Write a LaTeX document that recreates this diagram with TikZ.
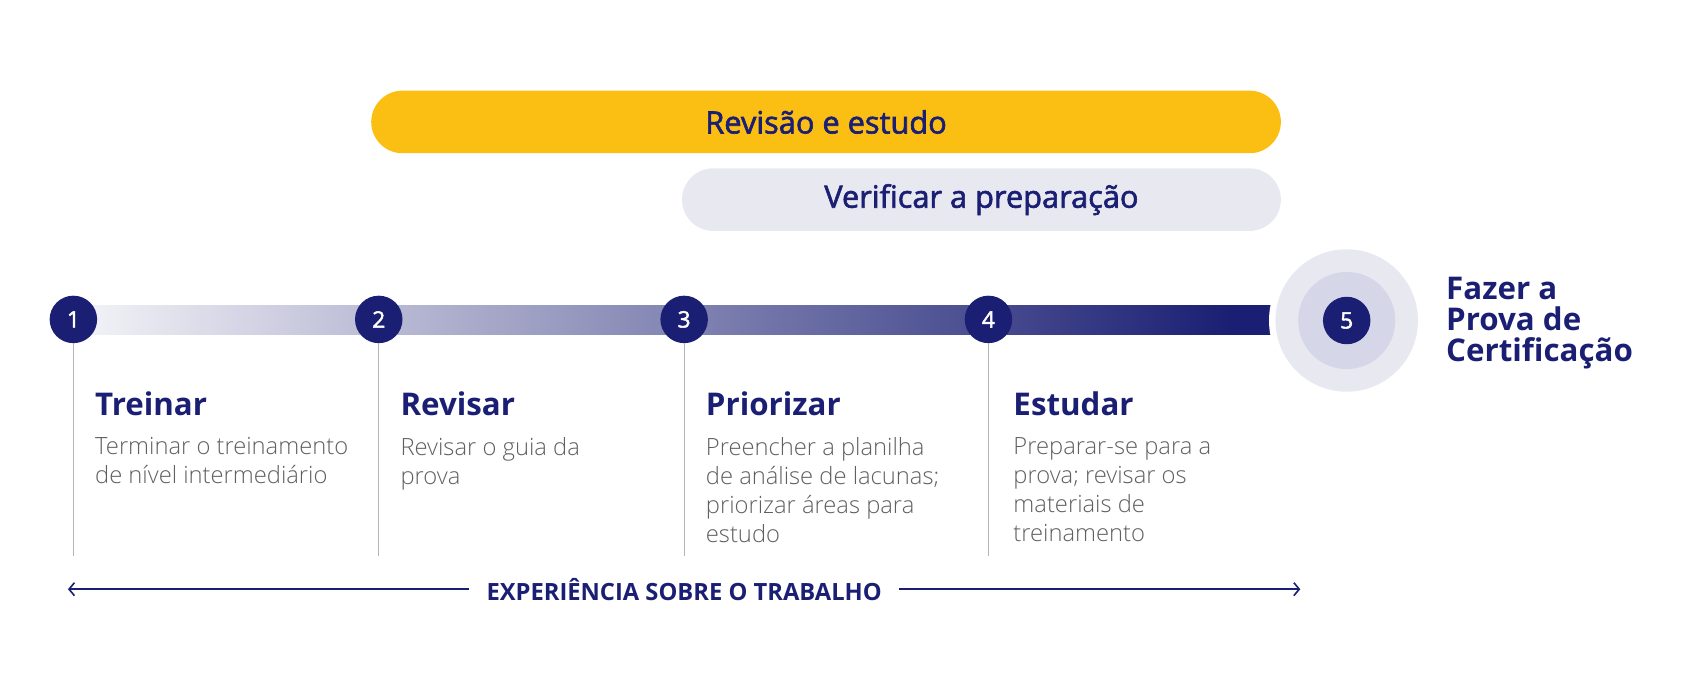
\documentclass[tikz,border=0pt]{standalone}
\usepackage{fontspec}
\setmainfont{Open Sans}
\newfontfamily\lightfont{Open Sans Light}
\newfontfamily\semifont{Open Sans}[FakeBold=2]
\usetikzlibrary{positioning,arrows.meta}
\definecolor{navy}{HTML}{1B1F73}
\definecolor{gold}{HTML}{FBBF14}
\definecolor{pale}{HTML}{E8E8F1}
\definecolor{ringmid}{HTML}{D5D6E7}
\definecolor{barlight}{HTML}{F4F4F8}
\definecolor{txtgray}{HTML}{5F5F5F}
\definecolor{rulegray}{HTML}{B4B4B4}
\tikzset{
	stepnum/.style={circle, fill=navy, minimum size=44pt, inner sep=0pt, text=white, font=\semifont\fontsize{21}{21}\selectfont},
	pill/.style={rounded corners=29pt, minimum height=58pt, inner sep=0pt, text=navy, font=\semifont\fontsize{28.5}{28.5}\selectfont},
	heading/.style={anchor=base west, inner sep=0pt, text=navy, font=\bfseries\fontsize{29}{29}\selectfont},
	body/.style={anchor=north west, inner sep=0pt, align=left, text=txtgray, font=\lightfont\fontsize{22}{27}\selectfont},
}

\begin{document}
\begin{tikzpicture}[x=1pt,y=-1pt]
				%%%%% START %%%%%
				\def\ybar{296}
				\def\yhead{385}
				\def\ybody{405}
				\def\yend{515}
				\def\xfive{1248}
				
				\useasboundingbox (0,0) rectangle (1568,643);
				
				% phases on top
				\node[pill, fill=gold, minimum width=843pt] (review) at (765.5,113) {Revisão e estudo};
				\node[pill, fill=pale, minimum width=555pt] (check) at (909.5,185) {Verificar a preparação};
				
				% timeline bar
				\shade[left color=barlight, right color=navy] (68,\ybar-13) rectangle (1140,\ybar+14);
				\fill[navy] (1140,\ybar-13) rectangle (1185,\ybar+14);
				\fill[white] (\xfive,\ybar+1) circle (72);
				\fill[pale] (\xfive,\ybar+1) circle (66);
				\fill[ringmid] (\xfive,\ybar+1) circle (45);
				
				% steps
				\foreach \i/\x in {1/68,2/351,3/634,4/916}{
					\coordinate (e\i) at (\x,\yend);
					\node[stepnum] (s\i) at (\x,\ybar) {\i};
					\draw[rulegray, line width=1pt] (s\i) -- (e\i);
				}
				\node[stepnum] (s5) at (\xfive,\ybar+1) {5};
				
				\node[heading] (h1) at (88,\yhead) {Treinar};
				\node[heading] (h2) at (371,\yhead) {Revisar};
				\node[heading] (h3) at (654,\yhead) {Priorizar};
				\node[heading] (h4) at (939,\yhead) {Estudar};
				
				\node[body] (b1) at (88,\ybody) {Terminar o treinamento\\de nível intermediário};
				\node[body] (b2) at (371,\ybody) {Revisar o guia da\\prova};
				\node[body] (b3) at (654,\ybody) {Preencher a planilha\\de análise de lacunas;\\priorizar áreas para\\estudo};
				\node[body] (b4) at (939,\ybody) {Preparar-se para a\\prova; revisar os\\materiais de\\treinamento};
				
				\node[anchor=north west, inner sep=0pt, align=left, text=navy, font=\bfseries\fontsize{29}{28.5}\selectfont] (goal) at (1340,257) {Fazer a\\Prova de\\Certificação};
				
				% work experience
				\coordinate (wl) at (63,546);
				\coordinate (wr) at (1205,546);
				\node[inner xsep=16pt, inner ysep=0pt, text=navy, font=\bfseries\fontsize{22}{22}\selectfont] (work) at (634,546) {EXPERIÊNCIA SOBRE O TRABALHO};
				\draw[navy, line width=1.5pt, -{Straight Barb[length=5pt,width=12pt]}] (work.west) -- (wl);
				\draw[navy, line width=1.5pt, -{Straight Barb[length=5pt,width=12pt]}] (work.east) -- (wr);
				%%%%% END %%%%%
\end{tikzpicture}
\end{document}
